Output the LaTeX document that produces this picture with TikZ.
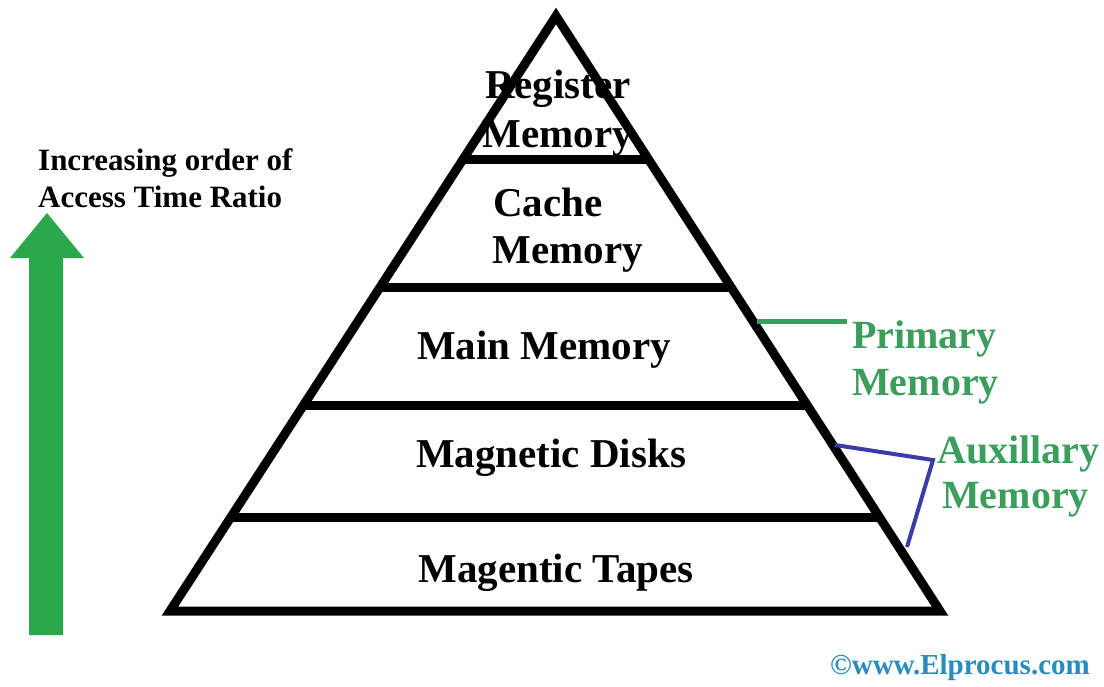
\documentclass[tikz,border=0pt]{standalone}
\usepackage{fontspec}
\setmainfont{Liberation Serif}
\definecolor{arrowgreen}{RGB}{44,168,76}
\definecolor{labelgreen}{RGB}{60,158,92}
\definecolor{auxblue}{RGB}{60,60,168}
\definecolor{webblue}{RGB}{40,140,190}
\begin{document}
\begin{tikzpicture}[x=1pt,y=-1pt,
  tier/.style={line width=9pt,line cap=butt,line join=miter},
  lbl/.style={inner sep=0pt,anchor=base,font=\fontsize{41}{41}\selectfont\bfseries},
  sidelbl/.style={inner sep=0pt,anchor=base west,text=labelgreen,font=\fontsize{40}{40}\selectfont\bfseries},
  leftlbl/.style={inner sep=0pt,anchor=base west,font=\fontsize{31}{31}\selectfont\bfseries}]
\useasboundingbox (0,0) rectangle (1104,686);
\fill[white] (0,0) rectangle (1104,686);
% pyramid
\coordinate (apex) at (556,16);
\coordinate (bl) at (170,611);
\coordinate (br) at (940,611);
\draw[tier] (apex) -- (bl) -- (br) -- cycle;
\foreach \yy/\nm in {160/a,287/b,405/c,517/d}{
  \path (apex) -- (bl) coordinate[pos={(\yy-16)/595}] (L\nm);
  \path (apex) -- (br) coordinate[pos={(\yy-16)/595}] (R\nm);
  \draw[tier] (L\nm) -- (R\nm);
}
% labels
\node[lbl] (reg1) at (558,98) {Register};
\node[lbl] (reg2) at (558,147) {Memory};
\node[lbl] (cache1) at (548,216) {Cache};
\node[lbl] (cache2) at (568,263) {Memory};
\node[lbl] (main) at (544,359) {Main Memory};
\node[lbl] (disk) at (551,467) {Magnetic Disks};
\node[lbl] (tape) at (556,582) {Magentic Tapes};
% left arrow
\node[leftlbl] (inc1) at (38,170) {Increasing order of};
\node[leftlbl] (inc2) at (38,207) {Access Time Ratio};
\fill[arrowgreen] (29,635) -- (29,258) -- (10,258) -- (47,213) -- (84,258) -- (63,258) -- (63,635) -- cycle;
% primary
\coordinate (p1) at (757,321);
\coordinate (p2) at (847,321);
\draw[labelgreen,line width=5pt] (p1) -- (p2);
\node[sidelbl] (prim1) at (852,348) {Primary};
\node[sidelbl] (prim2) at (852,395) {Memory};
% auxiliary
\coordinate (a1) at (835,445);
\coordinate (a2) at (933,460);
\coordinate (a3) at (907,547);
\draw[auxblue,line width=4pt,line join=miter] (a1) -- (a2) -- (a3);
\node[sidelbl] (aux1) at (937,463) {Auxillary};
\node[sidelbl] (aux2) at (942,508) {Memory};
% web
\node[inner sep=0pt,anchor=base west,text=webblue,font=\fontsize{29}{29}\selectfont\bfseries] (web) at (830,674) {©www.Elprocus.com};
\end{tikzpicture}
\end{document}
